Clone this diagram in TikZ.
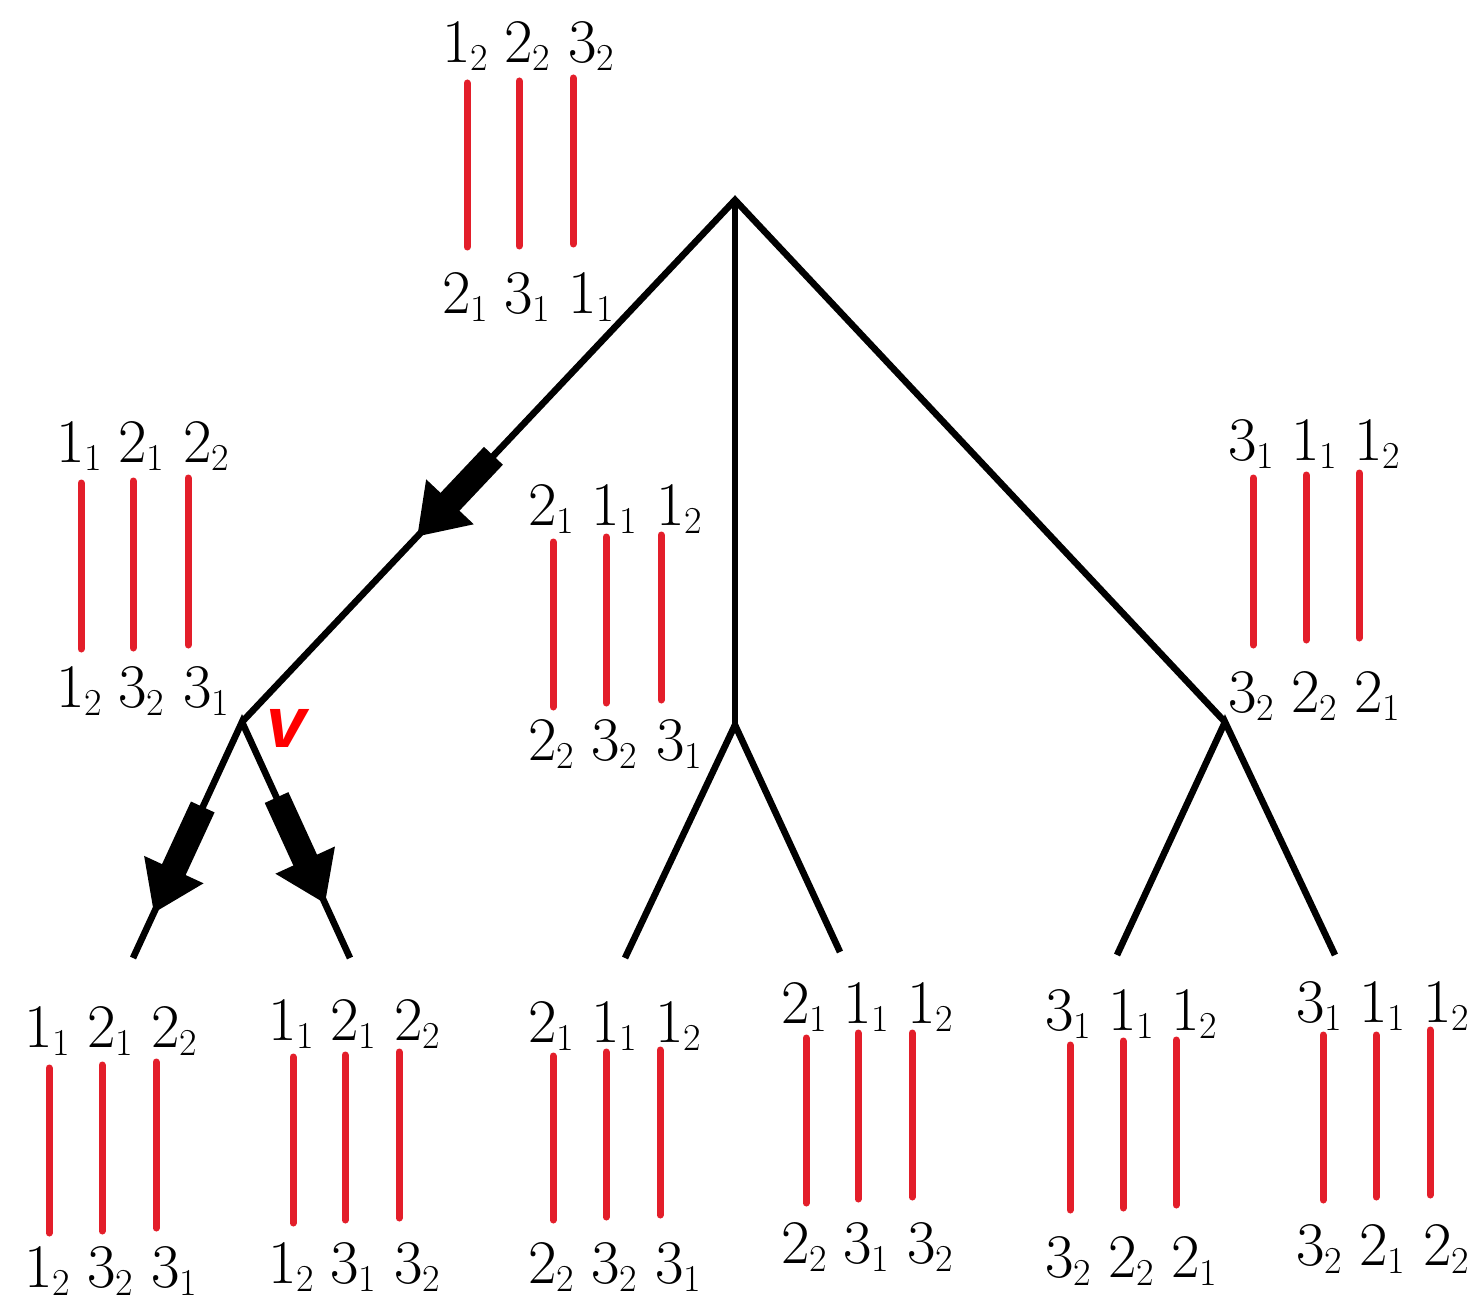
\documentclass[tikz,border=0pt]{standalone}
\usepackage{fontspec}
\setsansfont{Liberation Sans}
\usetikzlibrary{arrows.meta,calc}
\definecolor{strandred}{HTML}{E31E2A}

% a strand end: number with its side as subscript
\newcommand{\strand}[2]{#1\raisebox{-4pt}{\fontsize{19}{19}\selectfont #2}}

\begin{document}
\begin{tikzpicture}[
  x=0.5pt,y=-0.5pt,
  branch/.style={line width=3.3pt,draw=black,line join=miter},
  flow/.style={line width=13pt,-{Triangle[length=24pt,width=31pt]}},
  strand/.style={line width=3.5pt,draw=strandred,line cap=round},
  lab/.style={anchor=base,inner sep=0pt,font=\rmfamily\fontsize{31}{32}\selectfont}
]
  \useasboundingbox (0,0) rectangle (1476,1300);

  % tree
  \coordinate (root) at (735,200);
  \coordinate (v) at (242,722);
  \coordinate (mid) at (735,725);
  \coordinate (rgt) at (1225,722);
  \coordinate (l1) at (133,958);
  \coordinate (l2) at (350,958);
  \coordinate (l3) at (625,958);
  \coordinate (l4) at (840,952);
  \coordinate (l5) at (1117,955);
  \coordinate (l6) at (1335,955);

  \draw[branch] (v) -- (root) -- (rgt);
  \draw[branch] (root) -- (mid);
  \draw[branch] (l1) -- (v) -- (l2);
  \draw[branch] (l3) -- (mid) -- (l4);
  \draw[branch] (l5) -- (rgt) -- (l6);

  \draw[flow] ($(root)!0.49!(v)$) -- ($(root)!0.645!(v)$);
  \draw[flow] ($(v)!0.36!(l1)$) -- ($(v)!0.81!(l1)$);
  \draw[flow] ($(v)!0.32!(l2)$) -- ($(v)!0.77!(l2)$);

  \node[text=red,font=\sffamily\bfseries\itshape\fontsize{36}{36}\selectfont]
    (vlab) at (287,728) {v};

  % strand groups
  \foreach \x/\yt/\yb/\up/\dn [count=\k] in
    {467/83/247/\strand12/\strand21, 519/81/246/\strand22/\strand31,
     573/78/244/\strand32/\strand11} {
    \draw[strand] (\x,\yt) -- (\x,\yb);
    \node[lab] (top-up\k) at ({\x+(\k-2)*10+8},63) {\up};
    \node[lab] (top-dn\k) at ({\x+(\k-2)*10+8},313) {\dn};
  }
  \foreach \x/\yt/\yb/\up/\dn [count=\k] in
    {81/483/649/\strand11/\strand12, 133/481/648/\strand21/\strand32,
     188/478/645/\strand22/\strand31} {
    \draw[strand] (\x,\yt) -- (\x,\yb);
    \node[lab] (left-up\k) at ({\x+(\k-2)*10+8},462) {\up};
    \node[lab] (left-dn\k) at ({\x+(\k-2)*10+8},707) {\dn};
  }
  \foreach \x/\yt/\yb/\up/\dn [count=\k] in
    {553/542/707/\strand21/\strand22, 606/537/703/\strand11/\strand32,
     661/535/700/\strand12/\strand31} {
    \draw[strand] (\x,\yt) -- (\x,\yb);
    \node[lab] (mid-up\k) at ({\x+(\k-2)*10+8},525) {\up};
    \node[lab] (mid-dn\k) at ({\x+(\k-2)*10+8},760) {\dn};
  }
  \foreach \x/\yt/\yb/\up/\dn [count=\k] in
    {1253/478/645/\strand31/\strand32, 1306/475/640/\strand11/\strand22,
     1359/473/638/\strand12/\strand21} {
    \draw[strand] (\x,\yt) -- (\x,\yb);
    \node[lab] (rgt-up\k) at ({\x+(\k-2)*10+8},460) {\up};
    \node[lab] (rgt-dn\k) at ({\x+(\k-2)*10+8},712) {\dn};
  }

  % leaves
  \foreach \x/\yt/\yb/\up/\dn [count=\k] in
    {49/1068/1233/\strand11/\strand12, 102/1065/1231/\strand21/\strand32,
     156/1062/1228/\strand22/\strand31} {
    \draw[strand] (\x,\yt) -- (\x,\yb);
    \node[lab] (l1-up\k) at ({\x+(\k-2)*10+8},1047) {\up};
    \node[lab] (l1-dn\k) at ({\x+(\k-2)*10+8},1287) {\dn};
  }
  \foreach \x/\yt/\yb/\up/\dn [count=\k] in
    {293/1057/1223/\strand11/\strand12, 345/1055/1220/\strand21/\strand31,
     399/1052/1218/\strand22/\strand32} {
    \draw[strand] (\x,\yt) -- (\x,\yb);
    \node[lab] (l2-up\k) at ({\x+(\k-2)*10+8},1040) {\up};
    \node[lab] (l2-dn\k) at ({\x+(\k-2)*10+8},1283) {\dn};
  }
  \foreach \x/\yt/\yb/\up/\dn [count=\k] in
    {553/1056/1220/\strand21/\strand22, 606/1052/1217/\strand11/\strand32,
     660/1050/1215/\strand12/\strand31} {
    \draw[strand] (\x,\yt) -- (\x,\yb);
    \node[lab] (l3-up\k) at ({\x+(\k-2)*10+8},1042) {\up};
    \node[lab] (l3-dn\k) at ({\x+(\k-2)*10+8},1283) {\dn};
  }
  \foreach \x/\yt/\yb/\up/\dn [count=\k] in
    {806/1038/1203/\strand21/\strand22, 858/1033/1199/\strand11/\strand31,
     912/1033/1197/\strand12/\strand32} {
    \draw[strand] (\x,\yt) -- (\x,\yb);
    \node[lab] (l4-up\k) at ({\x+(\k-2)*10+8},1023) {\up};
    \node[lab] (l4-dn\k) at ({\x+(\k-2)*10+8},1263) {\dn};
  }
  \foreach \x/\yt/\yb/\up/\dn [count=\k] in
    {1070/1045/1210/\strand31/\strand32, 1123/1041/1208/\strand11/\strand22,
     1176/1040/1205/\strand12/\strand21} {
    \draw[strand] (\x,\yt) -- (\x,\yb);
    \node[lab] (l5-up\k) at ({\x+(\k-2)*10+8},1030) {\up};
    \node[lab] (l5-dn\k) at ({\x+(\k-2)*10+8},1277) {\dn};
  }
  \foreach \x/\yt/\yb/\up/\dn [count=\k] in
    {1323/1035/1200/\strand31/\strand32, 1376/1035/1197/\strand11/\strand21,
     1430/1030/1195/\strand12/\strand22} {
    \draw[strand] (\x,\yt) -- (\x,\yb);
    \node[lab] (l6-up\k) at ({\x+(\k-2)*10+6},1022) {\up};
    \node[lab] (l6-dn\k) at ({\x+(\k-2)*10+6},1265) {\dn};
  }
\end{tikzpicture}
\end{document}
